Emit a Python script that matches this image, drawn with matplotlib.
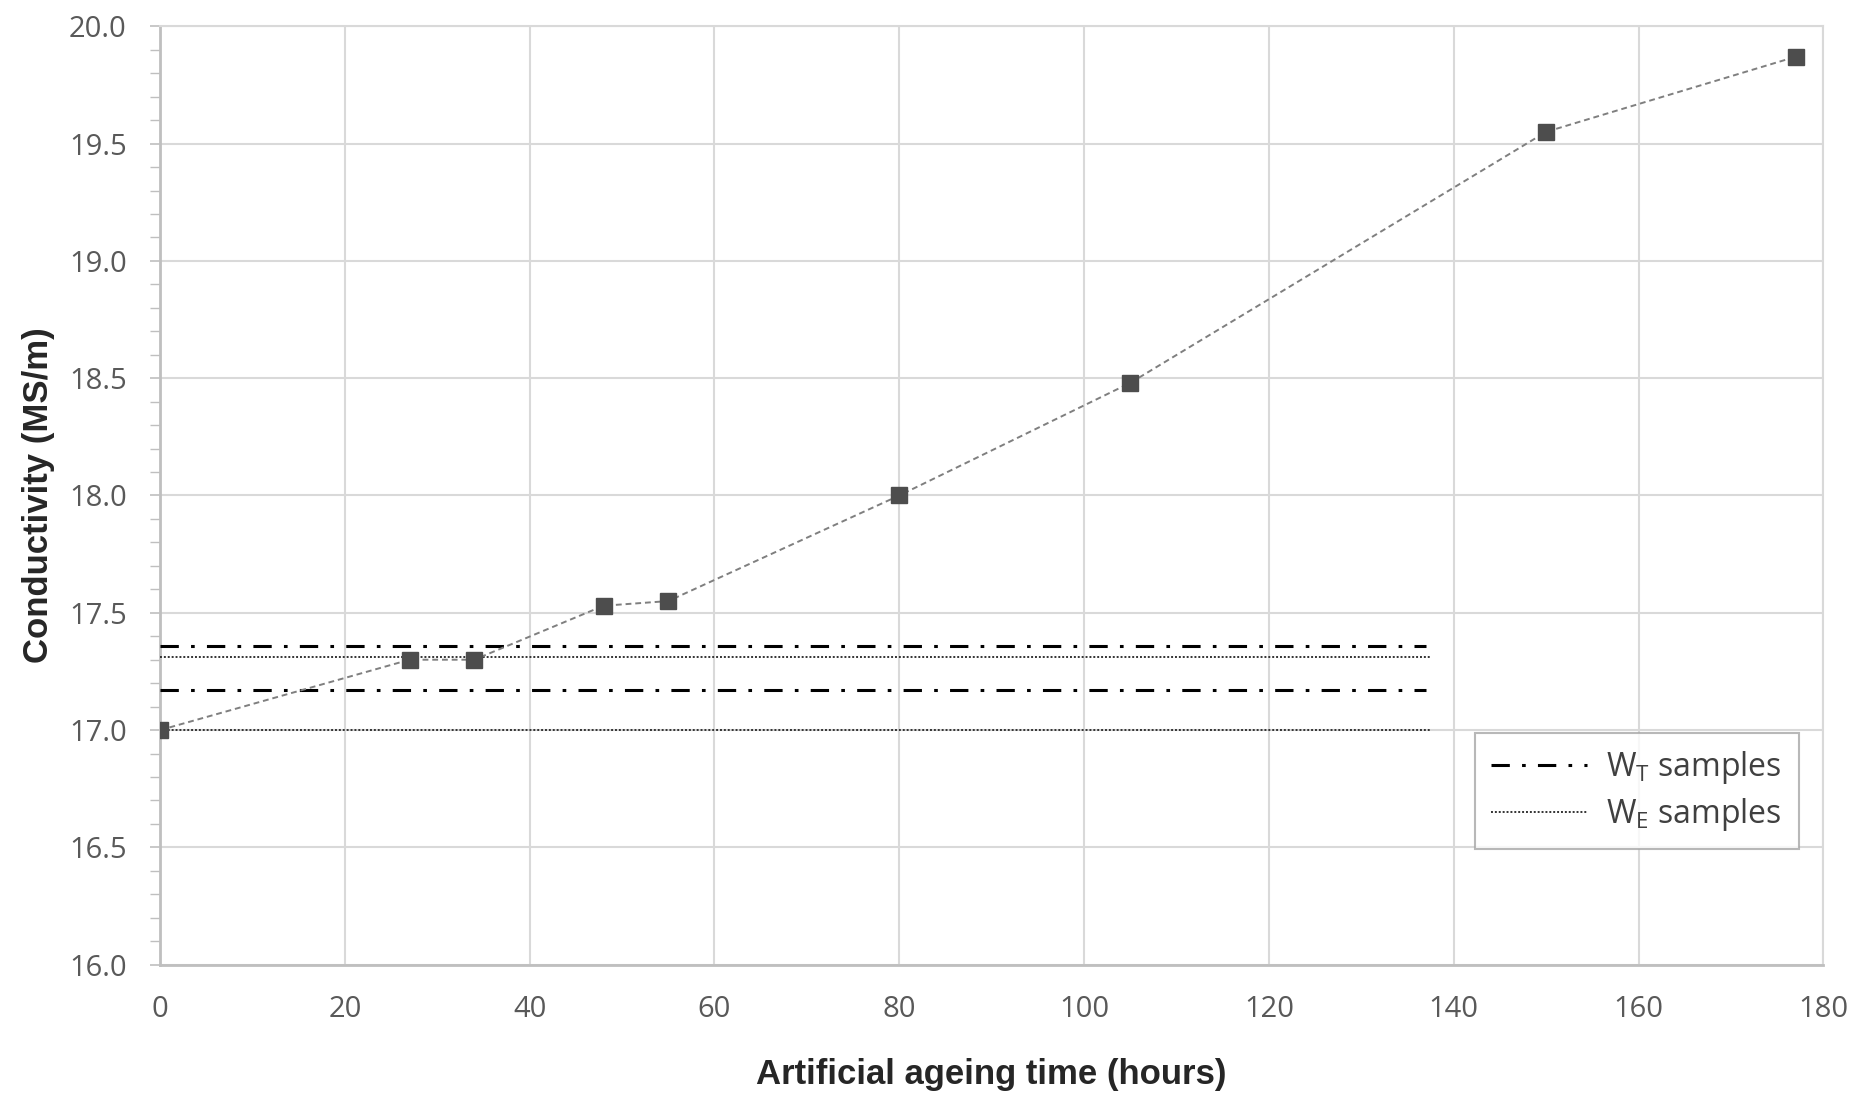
import numpy as np
import matplotlib
matplotlib.use("Agg")
import matplotlib.pyplot as plt
from matplotlib.ticker import MultipleLocator, FormatStrFormatter

plt.rcParams['font.family'] = ['Open Sans', 'DejaVu Sans']
plt.rcParams['mathtext.fontset'] = 'custom'
plt.rcParams['mathtext.rm'] = 'Open Sans'

# Datos
tiempo = [0, 27, 34, 48, 55, 80, 105, 150, 177]
conductividad = [17.0, 17.3, 17.3, 17.53, 17.55, 18.0, 18.48, 19.55, 19.87]

wt_niveles = [17.36, 17.17]
we_niveles = [17.31, 17.0]
x_fin_wt = 137.0
x_fin_we = 137.5

fig = plt.figure(figsize=(18.72, 10.95), dpi=100)
ax = fig.add_axes([0.0855, 0.119, 0.8885, 0.857])

# Curva de conductividad
ax.plot(tiempo, conductividad, linestyle=(0, (3, 2)), color='#7f7f7f',
        linewidth=1.4, marker='s', markersize=11,
        markerfacecolor='#4d4d4d', markeredgecolor='#4d4d4d', zorder=4)

# Niveles de referencia
for i, nivel in enumerate(wt_niveles):
    ax.plot([0, x_fin_wt], [nivel, nivel], color='black', linewidth=2.2,
            linestyle=(0, (6, 4, 1.2, 4)),
            label=r'W$_\mathregular{T}$ samples ' if i == 0 else None, zorder=3)
for i, nivel in enumerate(we_niveles):
    ax.plot([0, x_fin_we], [nivel, nivel], color='#333333', linewidth=1.4,
            linestyle=(0, (1, 1)),
            label=r'W$_\mathregular{E}$ samples ' if i == 0 else None, zorder=3)

ax.set_xlim(0, 180)
ax.set_ylim(16.0, 20.0)
ax.xaxis.set_major_locator(MultipleLocator(20))
ax.yaxis.set_major_locator(MultipleLocator(0.5))
ax.yaxis.set_minor_locator(MultipleLocator(0.1))
ax.yaxis.set_major_formatter(FormatStrFormatter('%.1f'))

ax.grid(True, which='major', color='#d9d9d9', linewidth=1.5)
ax.set_axisbelow(True)
for lado in ['top', 'right']:
    ax.spines[lado].set_color('#d9d9d9')
    ax.spines[lado].set_linewidth(1.5)
for lado in ['left', 'bottom']:
    ax.spines[lado].set_color('#bfbfbf')
    ax.spines[lado].set_linewidth(2)

ax.tick_params(axis='both', which='major', labelsize=21, colors='#bfbfbf',
               labelcolor='#595959', length=7, width=1.2)
ax.tick_params(axis='x', which='major', length=0, pad=22)
ax.tick_params(axis='y', which='minor', length=7, width=1.0, colors='#bfbfbf')
ax.tick_params(axis='y', which='major', pad=17)

ax.set_xlabel('Artificial ageing time (hours)', fontsize=25, fontweight='bold',
              family='Liberation Sans', color='#262626', labelpad=24)
ax.set_ylabel('Conductivity (MS/m)', fontsize=25, fontweight='bold',
              family='Liberation Sans', color='#262626', labelpad=10)

leg = ax.legend(loc='lower right', bbox_to_anchor=(0.9856, 0.1235), fontsize=23,
                frameon=True, fancybox=False, handlelength=3.0,
                borderaxespad=0, borderpad=0.5, labelspacing=0.3,
                handletextpad=0.6)
leg.get_frame().set_edgecolor('#a6a6a6')
leg.get_frame().set_linewidth(1.5)
for t in leg.get_texts():
    t.set_color('#404040')

fig.savefig('out.png', dpi=100)
